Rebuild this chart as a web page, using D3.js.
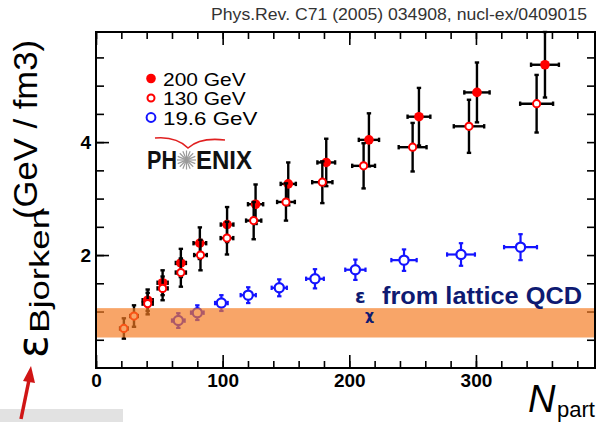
<!DOCTYPE html>
<html>
<head>
<meta charset="utf-8">
<script src="https://cdn.jsdelivr.net/npm/d3@7"></script>
<style>
  body { margin: 0; background: #fff; }
  svg { display: block; font-family: "Liberation Sans", Arial, sans-serif; }
</style>
</head>
<body>
<div id="chart"></div>
<script>
// data: [Npart, eps, err_eps, err_Npart]
var au200 = [
    [354.5, 5.37, 0.58, 11], [300.8, 4.88, 0.53, 10], [255, 4.45, 0.51, 9],
    [215.5, 4.04, 0.47, 8], [181.8, 3.64, 0.42, 7], [151.8, 3.26, 0.38, 6],
    [126, 2.90, 0.35, 6], [103.5, 2.54, 0.31, 5], [82, 2.21, 0.28, 5],
    [67, 1.86, 0.25, 4], [52.6, 1.51, 0.22, 4], [40.8, 1.20, 0.19, 4]
];
var au130 = [
    [347.9, 4.68, 0.51, 13], [294.5, 4.28, 0.47, 12], [250, 3.91, 0.43, 11],
    [211.3, 3.58, 0.40, 9], [178.7, 3.29, 0.37, 8], [150, 2.94, 0.33, 7],
    [124.5, 2.61, 0.33, 6], [103.4, 2.30, 0.29, 5], [82.5, 2.00, 0.27, 5],
    [67, 1.69, 0.25, 4], [52.6, 1.41, 0.21, 4], [40.8, 1.14, 0.19, 4],
    [30, 0.92, 0.19, 3], [22, 0.70, 0.18, 3]
];
var au19 = [
    [335.2, 2.14, 0.23, 13], [288.2, 2.01, 0.20, 11], [243.2, 1.91, 0.19, 10],
    [204.8, 1.74, 0.18, 8], [172.9, 1.58, 0.17, 7], [144.7, 1.42, 0.15, 6],
    [120.2, 1.29, 0.14, 6], [99, 1.15, 0.14, 5], [80, 0.98, 0.13, 5],
    [65, 0.84, 0.13, 5]
];
var lattice_band = [0.54, 1.06];
var legend_labels = ["200 GeV", "130 GeV", "19.6 GeV"];
var x_major = [0, 100, 200, 300];
var y_major = [2, 4];
var ref_text = "Phys.Rev. C71 (2005) 034908, nucl-ex/0409015";

var width = 598, height = 422;
var plot = { left: 96, right: 595, top: 32, bottom: 368 };

var svg = d3.select("#chart").append("svg")
    .attr("width", width)
    .attr("height", height);

var x = d3.scaleLinear().domain([0, 394]).range([plot.left, plot.right]);
var y = d3.scaleLinear().domain([0, 5.95]).range([plot.bottom, plot.top]);

// axes: minor ticks every 20 / 0.5, major ones longer
var x_minor = d3.range(0, 394, 20);
var y_minor = d3.range(0.5, 5.95, 0.5);

function strip(g) {
    g.select(".domain").remove();
    g.selectAll("line").attr("stroke", "#000").attr("stroke-width", 1.6);
}

svg.append("g").attr("transform", "translate(0," + plot.bottom + ")")
   .call(d3.axisBottom(x).tickValues(x_minor).tickSize(-7).tickFormat(""))
   .call(strip);
svg.append("g").attr("transform", "translate(0," + plot.bottom + ")")
   .call(d3.axisBottom(x).tickValues(x_major).tickSize(-13).tickPadding(6))
   .call(strip)
   .selectAll("text")
   .attr("font-size", 19).attr("font-weight", "bold").attr("fill", "#000")
   .attr("font-family", "Liberation Sans, Arial, sans-serif");
svg.append("g").attr("transform", "translate(0," + plot.top + ")")
   .call(d3.axisTop(x).tickValues(x_minor).tickSize(-7).tickFormat(""))
   .call(strip);
svg.append("g").attr("transform", "translate(0," + plot.top + ")")
   .call(d3.axisTop(x).tickValues(x_major).tickSize(-13).tickFormat(""))
   .call(strip);

svg.append("g").attr("transform", "translate(" + plot.left + ",0)")
   .call(d3.axisLeft(y).tickValues(y_minor).tickSize(-8).tickFormat(""))
   .call(strip);
svg.append("g").attr("transform", "translate(" + plot.left + ",0)")
   .call(d3.axisLeft(y).tickValues(y_major).tickSize(-13).tickPadding(5).tickFormat(d3.format("d")))
   .call(strip)
   .selectAll("text")
   .attr("font-size", 19).attr("font-weight", "bold").attr("fill", "#000")
   .attr("font-family", "Liberation Sans, Arial, sans-serif");
svg.append("g").attr("transform", "translate(" + plot.right + ",0)")
   .call(d3.axisRight(y).tickValues(y_minor).tickSize(-8).tickFormat(""))
   .call(strip);

// error bars with small end caps
function draw_errors(data, color, w, cap) {
    var g = svg.append("g").attr("stroke", color).attr("stroke-width", w).attr("fill", "none");
    data.forEach(function (d) {
        var cx = x(d[0]), cy = y(d[1]);
        var y1 = y(d[1] + d[2]), y2 = y(d[1] - d[2]);
        var x1 = x(d[0] - d[3]), x2 = x(d[0] + d[3]);
        g.append("line").attr("x1", cx).attr("x2", cx).attr("y1", y1).attr("y2", y2);
        g.append("line").attr("x1", x1).attr("x2", x2).attr("y1", cy).attr("y2", cy);
        g.append("line").attr("x1", cx - cap).attr("x2", cx + cap).attr("y1", y1).attr("y2", y1);
        g.append("line").attr("x1", cx - cap).attr("x2", cx + cap).attr("y1", y2).attr("y2", y2);
        g.append("line").attr("x1", x1).attr("x2", x1).attr("y1", cy - cap).attr("y2", cy + cap);
        g.append("line").attr("x1", x2).attr("x2", x2).attr("y1", cy - cap).attr("y2", cy + cap);
    });
}

draw_errors(au200, "#000", 2.4, 2.2);
svg.append("g").selectAll("circle").data(au200).enter().append("circle")
   .attr("cx", function (d) { return x(d[0]); })
   .attr("cy", function (d) { return y(d[1]); })
   .attr("r", 4.8)
   .attr("fill", "#ff0000");

draw_errors(au130, "#000", 2.4, 2.2);
svg.append("g").selectAll("circle").data(au130).enter().append("circle")
   .attr("cx", function (d) { return x(d[0]); })
   .attr("cy", function (d) { return y(d[1]); })
   .attr("r", 3.6)
   .attr("fill", "#fff")
   .attr("stroke", "#ff0000")
   .attr("stroke-width", 2);

draw_errors(au19, "#1414ff", 2.2, 2.2);
svg.append("g").selectAll("circle").data(au19).enter().append("circle")
   .attr("cx", function (d) { return x(d[0]); })
   .attr("cy", function (d) { return y(d[1]); })
   .attr("r", 4.6)
   .attr("fill", "#fff")
   .attr("stroke", "#1414ff")
   .attr("stroke-width", 2.2);

// lattice QCD band, see-through
svg.append("rect")
   .attr("x", plot.left + 1)
   .attr("width", plot.right - plot.left - 2)
   .attr("y", y(lattice_band[1]))
   .attr("height", y(lattice_band[0]) - y(lattice_band[1]))
   .attr("fill", "#f47a20")
   .attr("opacity", 0.68);

// frame
svg.append("rect")
   .attr("x", plot.left).attr("y", plot.top)
   .attr("width", plot.right - plot.left).attr("height", plot.bottom - plot.top)
   .attr("fill", "none").attr("stroke", "#000").attr("stroke-width", 2);

// band label
var navy = "#0e1a72";
svg.append("text").attr("x", 355).attr("y", 303)
   .attr("font-size", 19).attr("font-weight", "bold").attr("fill", navy)
   .attr("font-family", "DejaVu Sans, sans-serif")
   .text("ε");
svg.append("text").attr("x", 365).attr("y", 320)
   .attr("font-size", 14).attr("font-weight", "bold").attr("fill", navy)
   .attr("font-family", "DejaVu Sans, sans-serif")
   .text("χ");
svg.append("text").attr("x", 382).attr("y", 304)
   .attr("font-size", 24).attr("font-weight", "bold").attr("fill", navy)
   .attr("textLength", 200).attr("lengthAdjust", "spacingAndGlyphs")
   .text("from lattice QCD");

// legend
var leg = svg.append("g");
var leg_y = [78.5, 98, 117.5];
leg.append("circle").attr("cx", 151).attr("cy", leg_y[0]).attr("r", 4.8).attr("fill", "#ff0000");
leg.append("circle").attr("cx", 151).attr("cy", leg_y[1]).attr("r", 3.5)
   .attr("fill", "#fff").attr("stroke", "#ff0000").attr("stroke-width", 2);
leg.append("circle").attr("cx", 151).attr("cy", leg_y[2]).attr("r", 4.4)
   .attr("fill", "#fff").attr("stroke", "#1414ff").attr("stroke-width", 2);
leg.selectAll("text").data(legend_labels).enter().append("text")
   .attr("x", 163)
   .attr("y", function (d, i) { return leg_y[i] + 7; })
   .attr("font-size", 18.5)
   .attr("fill", "#000")
   .attr("textLength", function (d) { return d.length * 11.8; })
   .attr("lengthAdjust", "spacingAndGlyphs")
   .text(function (d) { return d; });

// PHENIX logo
var logo = svg.append("g");
logo.append("path")
    .attr("d", "M155,138 Q176,136 188,148 Q200,137 225,140")
    .attr("fill", "none").attr("stroke", "#e02020").attr("stroke-width", 1.6);
logo.append("text").attr("x", 147).attr("y", 169)
    .attr("font-size", 25).attr("font-weight", "bold").attr("fill", "#111")
    .attr("textLength", 30).attr("lengthAdjust", "spacingAndGlyphs")
    .text("PH");
logo.append("text").attr("x", 196).attr("y", 169)
    .attr("font-size", 25).attr("font-weight", "bold").attr("fill", "#111")
    .attr("textLength", 56).attr("lengthAdjust", "spacingAndGlyphs")
    .text("ENIX");
d3.range(0, 180, 22.5).forEach(function (a) {
    var r = a * Math.PI / 180, len = 9.5;
    logo.append("line")
        .attr("x1", 186.5 - len * Math.cos(r)).attr("y1", 160 - len * Math.sin(r))
        .attr("x2", 186.5 + len * Math.cos(r)).attr("y2", 160 + len * Math.sin(r))
        .attr("stroke", "#9a9a9a").attr("stroke-width", 1.2);
});

// reference line at the top
svg.append("text").attr("x", 587).attr("y", 20)
   .attr("text-anchor", "end")
   .attr("font-size", 16.5).attr("fill", "#333")
   .attr("textLength", 376).attr("lengthAdjust", "spacingAndGlyphs")
   .text(ref_text);

// y title, rotated
var yt = svg.append("g").attr("transform", "rotate(-90)");
yt.append("text").attr("x", -358).attr("y", 47)
  .attr("font-size", 42).attr("fill", "#000")
  .attr("font-family", "DejaVu Sans, sans-serif")
  .text("ε");
yt.append("text").attr("x", -333).attr("y", 49)
  .attr("font-size", 27).attr("fill", "#000")
  .attr("textLength", 124).attr("lengthAdjust", "spacingAndGlyphs")
  .text("Bjorken");
yt.append("text").attr("x", -219).attr("y", 37)
  .attr("font-size", 34).attr("fill", "#000")
  .attr("textLength", 179).attr("lengthAdjust", "spacingAndGlyphs")
  .text("(GeV / fm3)");

// x title
svg.append("text").attr("x", 528).attr("y", 412)
   .attr("font-size", 38).attr("font-style", "italic").attr("fill", "#000")
   .text("N");
svg.append("text").attr("x", 557).attr("y", 417)
   .attr("font-size", 22).attr("fill", "#000")
   .attr("textLength", 38).attr("lengthAdjust", "spacingAndGlyphs")
   .text("part");

// cut-off note box at bottom left with red arrow
svg.append("rect").attr("x", 0).attr("y", 409).attr("width", 123).attr("height", 13)
   .attr("fill", "#e2e2e2");
svg.append("line").attr("x1", 21).attr("y1", 419).attr("x2", 29).attr("y2", 380)
   .attr("stroke", "#d01515").attr("stroke-width", 3.5);
svg.append("path").attr("d", "M23,381 L31,366 L35,383 Z").attr("fill", "#d01515");
</script>
</body>
</html>
